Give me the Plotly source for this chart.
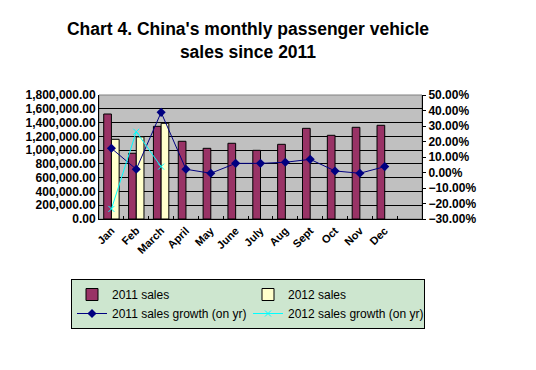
import plotly.graph_objects as go

months = ["Jan", "Feb", "March", "April", "May", "June", "July", "Aug", "Sept", "Oct", "Nov", "Dec", " "]
sales_2011 = [1524000, 954000, 1345000, 1128000, 1026000, 1099000, 997000, 1084000, 1316000, 1215000, 1331000, 1360000, None]
sales_2012 = [1157000, 1192000, 1389000, None, None, None, None, None, None, None, None, None, None]
growth_2011 = [0.156, 0.021, 0.388, 0.021, -0.005, 0.059, 0.059, 0.066, 0.085, 0.010, -0.005, 0.038, None]
growth_2012 = [-0.235, 0.263, 0.038, None, None, None, None, None, None, None, None, None, None]

FONT = "Liberation Sans, Arial, sans-serif"

fig = go.Figure()
fig.add_trace(go.Bar(x=months, y=sales_2011, name="2011 sales",
                     marker=dict(color="#993366", line=dict(color="black", width=1))))
fig.add_trace(go.Bar(x=months, y=sales_2012, name="2012 sales",
                     marker=dict(color="#FFFFCC", line=dict(color="black", width=1))))
fig.add_trace(go.Scatter(x=months, y=growth_2011, name="2011 sales growth (on yr)", yaxis="y2",
                         mode="lines+markers", line=dict(color="#000080", width=1),
                         marker=dict(symbol="diamond", size=7, color="#000080")))
fig.add_trace(go.Scatter(x=months, y=growth_2012, name="2012 sales growth (on yr)", yaxis="y2",
                         mode="lines+markers", line=dict(color="#00FFFF", width=1),
                         marker=dict(symbol="x-thin", size=6, line=dict(color="#00FFFF", width=1))))

fig.update_layout(
    width=536, height=370,
    margin=dict(l=91, r=122, t=87, b=159, autoexpand=False),
    paper_bgcolor="white", plot_bgcolor="#C0C0C0",
    barmode="group", bargap=0.38, bargroupgap=0,
    font=dict(family=FONT, color="black"),
    title=dict(text="<b>Chart 4. China's monthly passenger vehicle<br>sales since 2011</b>",
               x=240/536, xanchor="center", xref="container",
               y=1-27/370, yanchor="top", yref="container",
               font=dict(size=17.5, family=FONT, color="black")),
    xaxis=dict(type="category", range=[-0.5, 12.5], showgrid=False, zeroline=False,
               showline=True, linecolor="black", linewidth=1, automargin=False,
               ticks="inside", ticklen=3, tickcolor="black", tickson="boundaries",
               tickangle=-45, tickfont=dict(size=11, family=FONT, weight="bold")),
    yaxis=dict(range=[0, 1800000], dtick=200000, tickformat=",.2f", automargin=False,
               showgrid=True, gridcolor="black", gridwidth=1, zeroline=False,
               showline=True, linecolor="black", linewidth=1, ticks="",
               tickfont=dict(size=12, family=FONT, weight="bold")),
    yaxis2=dict(overlaying="y", side="right", range=[-0.30, 0.50], dtick=0.10, tickformat=".2%",
                showgrid=False, zeroline=False, showline=True, linecolor="black", linewidth=1,
                ticks="outside", ticklen=3, tickcolor="black", automargin=False,
                tickfont=dict(size=12, family=FONT, weight="bold")),
    legend=dict(orientation="h", x=-28/323, xanchor="left", y=-60/124, yanchor="top",
                bgcolor="#CDE6CF", bordercolor="black", borderwidth=1,
                entrywidth=131, itemwidth=30, traceorder="normal",
                font=dict(size=12, family=FONT), tracegroupgap=0),
    shapes=[dict(type="rect", xref="paper", yref="paper", x0=0, x1=1, y0=0, y1=1,
                 line=dict(color="#808080", width=1), layer="below")],
    showlegend=True,
)

fig.write_html("out.html")
